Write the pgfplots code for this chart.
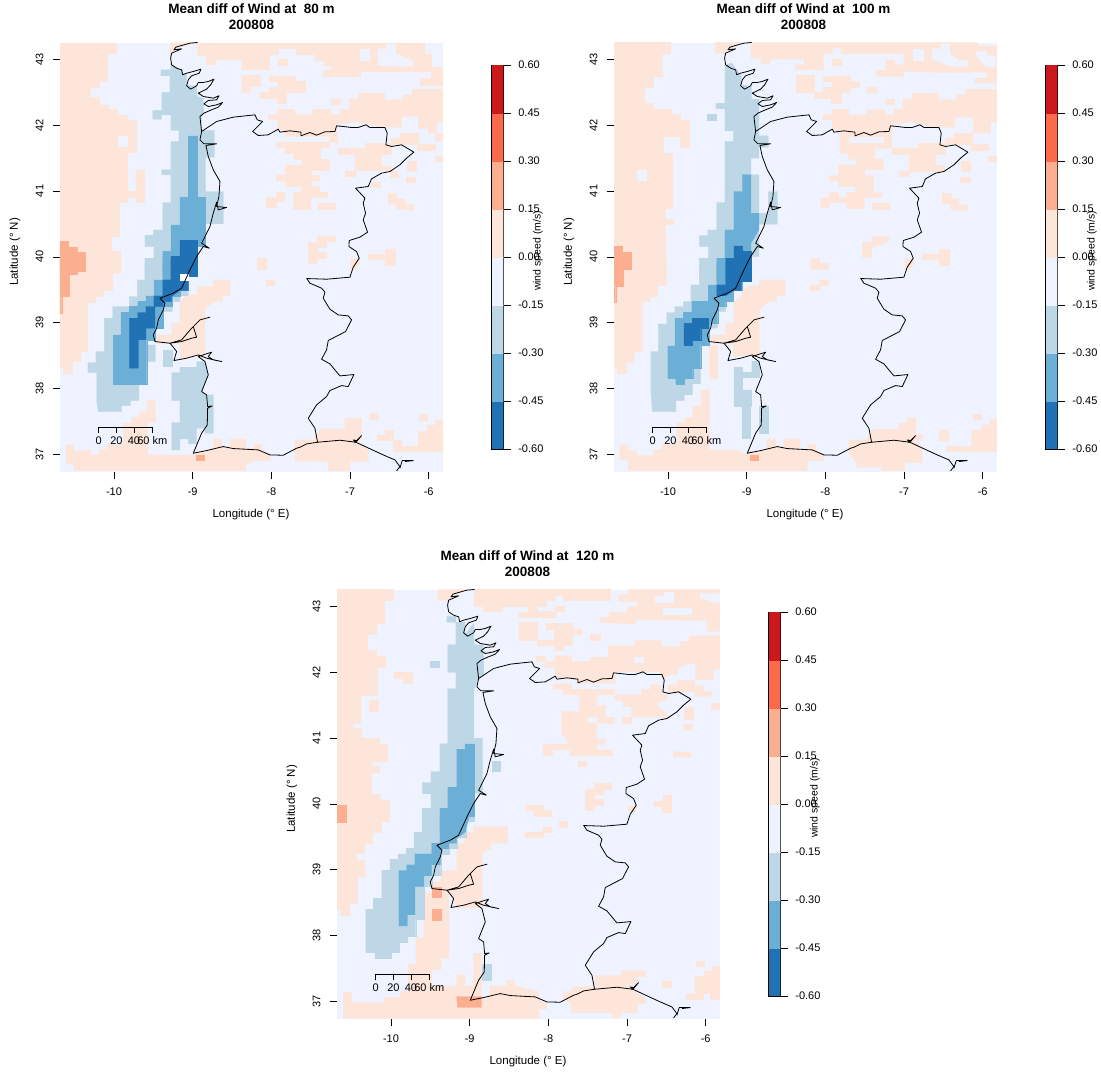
\documentclass[border=0pt]{standalone}
\usepackage{pgfplots}
\pgfplotsset{compat=1.18}
\usepackage{fontspec}
\setmainfont{Liberation Sans}
\definecolor{cA}{HTML}{2171B5}\definecolor{cB}{HTML}{6BAED6}\definecolor{cC}{HTML}{BDD7E7}\definecolor{cD}{HTML}{EFF3FF}
\definecolor{cE}{HTML}{FEE5D9}\definecolor{cF}{HTML}{FCAE91}\definecolor{cG}{HTML}{FB6A4A}\definecolor{cH}{HTML}{CB181D}
\pgfplotsset{
 Z/.style 2 args={x filter/.expression={-10+((x+#1)/3-114)/78.7},y filter/.expression={37+(454.3-(y+#2)/3)/65.8}},
 or/.style={fill=cE,draw=cE,line width=.2pt},
 sa/.style={fill=cF,draw=cF,line width=.2pt},
 bg/.style={fill=cD,draw=cD,line width=.2pt},
 bl/.style={fill=cC,draw=cC,line width=.2pt},
 mb/.style={fill=cB,draw=cB,line width=.2pt},
 db/.style={fill=cA,draw=cA,line width=.2pt},
 wh/.style={fill=white,draw=white,line width=.2pt},
 cl/.style={black,line width=.8pt,line join=round}}
\newcommand{\PP}[4]{\addplot[#1,Z={#2}{#3}] coordinates {#4} -- cycle;}
\newcommand{\LL}[3]{\addplot[cl,Z={#1}{#2}] coordinates {#3};}
\newcommand{\Coast}{%
\LL{0}{0}{(593,128)(570,130)(545,137)(528,142)(522,150)(545,147)(520,158)(515,160)(512,175)(515,195)(530,205)(545,210)(548,225)(560,220)(580,215)(603,208)(598,220)(575,228)(565,240)(560,258)(572,268)(590,258)(595,248)(610,248)(625,245)(642,238)(632,255)(620,268)(595,280)(610,290)(640,295)(657,288)(650,300)(625,302)(612,312)(625,320)(650,315)(668,308)(655,322)(630,332)(612,340)(600,350)(605,395)(600,420)(612,432)(650,432)(618,437)(625,470)(640,510)(660,545)(657,590)(650,620)(680,623)(655,630)(650,607)(640,640)(630,680)(605,730)(628,745)(610,740)(590,770)(570,810)}
\LL{0}{780}{(570,30)(545,85)(520,100)(480,115)(495,130)(490,150)(475,180)(470,205)(460,225)(465,245)(510,250)(545,245)(575,235)(590,232)(580,200)(600,180)(630,172)(600,180)(575,205)(545,240)(510,250)(520,262)(530,275)(522,302)(560,295)(595,285)(620,295)(665,305)(640,300)(625,290)(635,277)(625,280)(595,290)(615,305)(625,345)(605,395)(620,405)(623,440)(637,438)(623,445)(622,495)(605,520)(580,580)(620,572)(670,560)(700,566)(775,570)(810,585)(850,586)(890,565)(900,562)}
\LL{600}{810}{(300,532)(320,522)(353,517)(420,511)(460,516)(470,518)(460,510)(470,512)(485,497)(470,515)(470,518)(550,555)(585,570)(600,590)(590,603)}
\LL{600}{810}{(600,595)(607,572)(640,572)(615,575)}
\LL{0}{0}{(605,395)(650,365)(700,352)(765,345)(772,360)(788,365)(775,378)(758,395)(775,407)(805,405)(835,388)(840,397)(870,393)(903,397)}
\LL{600}{90}{(303,307)(303,318)(330,308)(350,316)(375,306)(405,305)(410,288)(430,290)(455,293)(475,293)(498,285)(510,293)(555,293)(562,310)(558,345)(575,350)(605,345)(642,367)(620,385)(600,405)(570,425)(545,430)(515,447)(505,470)(467,475)(495,505)(490,520)(497,550)(490,570)(503,607)(480,622)(448,632)(447,650)(470,665)(478,685)(460,712)(450,742)(380,748)(320,746)}
\LL{600}{810}{(320,25)(330,40)(365,55)(375,67)(370,85)(390,118)(415,135)(445,138)(455,150)(437,185)(385,212)(380,240)(365,268)(390,282)(420,318)(462,314)(445,350)(425,347)(390,362)(380,380)(350,405)(325,445)(345,475)(353,517)}
}
\newcommand{\PanelA}{%
\PP{or}{0}{0}{(180,129)(348,129)(348,160)(322,160)(322,245)(296,245)(296,262)(270,262)(270,292)(296,292)(296,315)(325,315)(325,327)(350,327)(350,345)(380,345)(380,360)(407,360)(407,458)(382,458)(382,575)(407,575)(407,510)(433,510)(433,608)(407,608)(407,592)(382,592)(382,608)(358,608)(358,708)(333,708)(333,755)(360,755)(360,820)(180,820)}
\PP{or}{0}{780}{(180,-5)(360,-5)(360,40)(335,40)(335,92)(310,92)(310,110)(285,110)(285,127)(262,127)(262,275)(240,275)(240,305)(215,305)(215,340)(190,340)(190,322)(180,322)}
\PP{bg}{0}{0}{(355,408)(380,408)(380,440)(355,440)}
\PP{sa}{0}{0}{(180,725)(205,725)(205,742)(232,742)(232,758)(256,758)(256,815)(180,815)}
\PP{sa}{0}{780}{(180,0)(256,0)(256,25)(232,25)(232,42)(207,42)(207,110)(185,110)(185,160)(180,160)}
\PP{or}{0}{780}{(198,555)(222,555)(222,572)(272,572)(272,585)(298,585)(298,568)(322,568)(322,552)(370,552)(370,490)(395,490)(395,472)(418,472)(418,455)(442,455)(442,422)(466,422)(466,487)(442,487)(442,585)(580,585)(640,565)(640,537)(665,537)(665,560)(690,560)(690,537)(738,537)(738,565)(762,565)(762,553)(785,553)(785,570)(810,585)(810,602)(762,602)(738,615)(738,632)(222,632)(222,615)(198,610)}
\PP{sa}{0}{780}{(588,585)(613,585)(613,602)(588,602)}
\PP{or}{0}{780}{(592,80)(640,80)(640,60)(692,60)(692,107)(668,107)(668,125)(640,125)(615,148)(615,290)(595,285)(540,300)(540,255)(515,250)(465,250)(465,225)(515,225)(515,190)(540,190)(540,125)(565,105)(592,105)}
\PP{or}{0}{780}{(797,60)(822,60)(822,75)(797,75)}
\PP{or}{0}{780}{(772,-5)(797,-5)(797,25)(772,25)}
\PP{or}{600}{810}{(285,510)(345,510)(345,490)(360,490)(360,477)(435,477)(435,445)(485,445)(485,510)(470,515)(505,540)(505,575)(450,575)(450,603)(385,603)(385,575)(285,573)}
\PP{or}{600}{810}{(532,497)(555,497)(555,480)(580,480)(580,512)(605,512)(605,530)(655,530)(655,483)(682,483)(682,465)(707,465)(707,450)(729,450)(729,545)(580,545)(580,512)(532,512)}
\PP{or}{600}{810}{(510,430)(535,430)(535,447)(510,447)}
\PP{or}{600}{810}{(658,432)(682,432)(682,450)(658,450)}
\PP{or}{0}{0}{(510,129)(590,129)(590,131)(530,142)(510,165)}
\PP{or}{600}{90}{(-8,40)(672,40)(672,72)(695,72)(695,112)(729,112)(729,165)(662,165)(662,145)(695,145)(695,125)(610,125)(480,125)(480,140)(370,140)(370,122)(395,122)(395,107)(372,107)(372,90)(345,90)(345,72)(288,72)(288,55)(235,55)(235,72)(208,72)(208,118)(125,118)(125,87)(45,87)(45,102)(18,102)(18,75)(-8,75)}
\PP{bg}{600}{90}{(480,57)(507,57)(507,92)(480,92)}
\PP{bg}{600}{90}{(535,57)(560,57)(560,43)(588,43)(588,72)(640,95)(640,110)(610,110)(535,107)}
\PP{or}{600}{90}{(235,87)(262,87)(262,105)(235,105)}
\PP{or}{600}{90}{(125,135)(180,135)(180,170)(152,170)(152,188)(125,188)}
\PP{or}{600}{90}{(207,138)(287,138)(287,155)(315,155)(315,188)(260,188)(260,220)(232,220)(232,205)(180,205)(180,188)(207,188)(207,172)(235,172)(235,155)(207,155)}
\PP{or}{600}{90}{(393,207)(420,207)(420,224)(393,224)}
\PP{or}{600}{90}{(205,255)(232,255)(232,238)(285,238)(285,255)(338,255)(338,238)(393,238)(393,255)(420,255)(420,238)(447,238)(447,207)(475,207)(475,190)(555,190)(555,210)(610,210)(610,195)(637,195)(637,178)(729,178)(729,278)(710,278)(710,310)(685,310)(685,295)(655,295)(655,260)(605,260)(605,293)(555,293)(470,275)(410,285)(415,338)(388,338)(388,320)(255,320)(255,305)(232,297)(232,270)(205,270)}
\PP{or}{600}{90}{(707,310)(730,310)(730,330)(707,330)}
\PP{or}{600}{90}{(230,338)(388,338)(388,353)(360,353)(360,388)(388,388)(388,420)(333,420)(333,437)(358,437)(358,452)(333,452)(333,470)(358,470)(358,488)(382,488)(382,503)(330,503)(330,537)(280,537)(280,488)(305,488)(305,470)(255,470)(255,452)(228,452)(228,437)(255,437)(255,405)(308,405)(308,388)(282,388)(282,370)(255,370)(255,353)(230,353)}
\PP{or}{600}{90}{(200,503)(228,503)(228,487)(253,487)(253,515)(228,515)(228,532)(200,532)}
\PP{or}{600}{90}{(355,520)(407,520)(407,537)(355,537)}
\PP{or}{600}{90}{(415,355)(495,355)(495,340)(573,340)(573,372)(545,372)(545,408)(570,408)(570,422)(465,422)(465,372)(415,372)}
\PP{or}{600}{90}{(573,325)(600,325)(600,310)(655,310)(655,342)(705,342)(705,360)(652,360)(652,342)(573,342)}
\PP{or}{600}{90}{(705,378)(729,378)(729,395)(705,395)}
\PP{or}{600}{90}{(623,393)(650,393)(650,425)(623,425)}
\PP{or}{600}{90}{(620,442)(647,442)(647,458)(620,458)}
\PP{or}{600}{90}{(570,425)(595,425)(595,442)(570,442)}
\PP{or}{600}{90}{(437,423)(465,423)(465,438)(437,438)}
\PP{or}{600}{90}{(515,458)(540,458)(540,473)(515,473)}
\PP{or}{600}{90}{(565,490)(592,490)(592,507)(615,507)(615,525)(642,525)(642,542)(590,537)(590,523)(565,523)}
\PP{or}{600}{90}{(352,620)(405,620)(405,635)(380,635)(380,652)(352,652)(352,668)(378,668)(378,685)(352,685)(352,700)(325,700)(325,637)(352,637)}
\PP{or}{600}{90}{(172,685)(197,685)(197,717)(172,717)}
\PP{or}{600}{90}{(505,672)(557,672)(557,657)(585,657)(585,705)(557,705)(557,688)(505,688)}
\PP{or}{600}{90}{(453,687)(478,687)(478,705)(465,720)(453,720)}
\PP{bl}{0}{0}{(483,210)(512,210)(512,193)(530,205)(548,212)(548,225)(560,222)(560,258)(590,258)(590,275)(592,290)(610,295)(612,340)(605,350)(605,392)(643,392)(643,472)(617,472)(617,575)(670,575)(670,672)(617,672)(617,740)(592,740)(592,830)(435,830)(435,790)(462,790)(462,740)(435,740)(435,706)(460,706)(460,690)(488,690)(488,608)(513,608)(513,525)(485,525)(485,510)(513,510)(513,425)(537,425)(537,392)(513,392)(513,345)(485,345)(485,358)(458,358)(458,332)(485,332)(485,278)(510,278)(510,228)(483,228)}
\PP{bl}{0}{780}{(435,-5)(590,-5)(590,42)(565,42)(565,108)(540,108)(540,125)(517,125)(517,155)(490,155)(490,205)(465,205)(465,240)(440,240)(440,255)(466,255)(466,305)(440,305)(440,372)(417,372)(417,422)(392,422)(392,437)(365,437)(365,455)(295,455)(290,425)(290,338)(264,338)(264,308)(288,308)(288,275)(313,275)(313,175)(338,175)(338,140)(388,140)(388,110)(412,110)(412,60)(435,60)}
\PP{bl}{0}{780}{(490,272)(515,272)(515,320)(490,320)}
\PP{bl}{0}{780}{(515,338)(540,338)(540,322)(590,322)(590,305)(617,305)(625,345)(605,395)(617,405)(640,405)(640,520)(615,520)(615,505)(590,505)(590,552)(565,552)(565,537)(540,537)(540,570)(515,570)(515,488)(540,488)(540,422)(515,422)}
\PP{mb}{0}{0}{(565,408)(592,408)(592,592)(615,592)(615,740)(592,740)(592,830)(488,830)(488,755)(513,755)(513,675)(540,675)(540,592)(565,592)}
\PP{mb}{0}{780}{(488,-5)(590,-5)(590,42)(565,42)(565,92)(540,92)(540,110)(517,110)(517,140)(490,140)(490,205)(465,205)(465,240)(440,240)(440,372)(340,372)(340,225)(363,225)(363,158)(388,158)(388,140)(413,140)(413,125)(438,125)(438,108)(462,108)(462,60)(488,60)}
\PP{db}{0}{0}{(540,722)(592,722)(592,830)(513,830)(513,770)(540,770)}
\PP{db}{0}{780}{(513,-5)(590,-5)(590,42)(565,42)(565,92)(540,92)(515,110)(515,125)(490,125)(490,140)(465,140)(465,205)(438,205)(438,240)(415,240)(415,325)(388,325)(388,175)(413,175)(413,158)(438,158)(438,140)(462,140)(462,108)(488,108)(488,60)(513,60)}
\PP{wh}{0}{780}{(540,42)(565,42)(565,60)(540,60)}
}
\newcommand{\PanelB}{%
\PP{or}{3}{90}{(177,38)(345,38)(345,70)(320,70)(320,140)(295,140)(295,172)(268,172)(268,220)(295,220)(295,237)(348,237)(348,253)(375,253)(375,270)(403,270)(403,352)(375,352)(375,320)(325,320)(325,370)(352,370)(352,535)(330,535)(330,568)(355,568)(355,583)(330,583)(330,755)(177,755)}
\PP{bg}{3}{90}{(247,420)(273,420)(273,452)(247,452)}
\PP{or}{3}{780}{(177,-5)(332,-5)(332,75)(307,75)(307,108)(282,108)(282,125)(260,125)(260,275)(237,275)(237,308)(212,308)(212,340)(187,340)(187,325)(177,325)}
\PP{sa}{3}{90}{(177,650)(202,650)(202,667)(228,667)(228,717)(204,717)(204,755)(177,755)}
\PP{sa}{3}{780}{(177,-5)(228,-5)(228,27)(204,27)(204,78)(182,78)(182,128)(177,128)}
\PP{or}{3}{780}{(195,555)(220,555)(220,573)(245,573)(245,587)(295,587)(295,570)(320,570)(320,553)(365,553)(365,488)(390,488)(390,472)(413,472)(413,438)(438,438)(438,390)(463,390)(463,570)(538,570)(577,583)(635,570)(635,537)(662,537)(662,560)(687,560)(687,537)(735,537)(735,570)(758,570)(758,553)(783,553)(783,570)(807,585)(807,602)(757,602)(757,632)(220,632)(220,600)(195,600)}
\PP{sa}{3}{780}{(585,585)(610,585)(610,602)(585,602)}
\PP{or}{3}{780}{(462,255)(487,255)(487,355)(462,355)}
\PP{or}{3}{780}{(613,78)(613,60)(690,60)(690,108)(665,108)(665,125)(640,125)(613,150)(613,287)(590,285)(535,290)(535,255)(510,250)(462,250)(462,225)(512,225)(512,190)(537,190)(537,125)(562,108)(562,90)(587,78)}
\PP{or}{3}{780}{(768,-5)(792,-5)(792,12)(818,12)(818,27)(768,27)}
\PP{or}{3}{780}{(795,60)(818,60)(818,75)(792,75)(792,92)(767,92)(767,75)(795,75)}
\PP{or}{603}{90}{(-12,38)(668,38)(668,48)(726,48)(726,160)(660,160)(660,145)(695,145)(695,128)(575,128)(447,125)(447,140)(365,140)(365,122)(392,122)(392,90)(420,90)(420,105)(447,105)(447,72)(258,72)(258,55)(232,55)(232,72)(205,72)(205,120)(122,120)(122,105)(148,105)(148,88)(45,88)(45,103)(18,103)(18,85)(-12,85)}
\PP{or}{3}{90}{(480,38)(560,38)(525,55)(510,70)(480,70)}
\PP{bg}{603}{90}{(475,57)(505,57)(505,92)(475,92)}
\PP{bg}{603}{90}{(532,57)(558,57)(558,43)(585,43)(585,72)(612,92)(640,92)(640,110)(585,110)(532,88)}
\PP{bg}{603}{90}{(665,65)(695,65)(695,78)(722,78)(722,112)(695,112)(665,78)}
\PP{or}{603}{90}{(232,87)(258,87)(258,105)(232,105)}
\PP{or}{603}{90}{(122,135)(177,135)(177,188)(122,188)}
\PP{or}{603}{90}{(205,138)(285,138)(285,155)(312,155)(312,172)(285,172)(285,188)(258,188)(258,220)(230,220)(230,205)(178,205)(178,188)(205,188)(205,172)(232,172)(232,155)(205,155)}
\PP{or}{603}{90}{(338,172)(365,172)(365,188)(338,188)}
\PP{or}{603}{90}{(390,207)(417,207)(417,224)(390,224)}
\PP{or}{603}{90}{(203,255)(230,255)(230,238)(282,238)(282,255)(335,255)(335,240)(390,240)(390,255)(417,255)(417,238)(443,238)(443,207)(472,207)(472,190)(552,190)(552,210)(605,210)(605,195)(632,195)(632,178)(726,178)(726,278)(707,278)(707,310)(655,310)(655,262)(600,262)(600,292)(553,292)(495,285)(470,275)(410,285)(412,355)(360,355)(360,388)(385,388)(385,420)(330,420)(330,437)(355,437)(355,488)(380,488)(380,503)(328,503)(328,537)(275,537)(275,487)(302,487)(302,470)(250,470)(250,452)(222,452)(222,437)(250,437)(250,405)(305,405)(305,388)(280,388)(280,370)(255,370)(255,305)(233,297)(230,270)(203,270)}
\PP{bg}{603}{90}{(283,322)(385,322)(385,338)(283,338)}
\PP{or}{603}{90}{(412,355)(490,355)(490,340)(570,340)(570,372)(540,372)(540,405)(568,405)(568,423)(462,423)(462,372)(412,372)}
\PP{or}{603}{90}{(570,325)(597,325)(597,310)(652,310)(652,342)(700,342)(700,360)(650,360)(650,342)(570,342)}
\PP{or}{603}{90}{(700,378)(726,378)(726,395)(700,395)}
\PP{or}{603}{90}{(620,393)(647,393)(647,425)(620,425)}
\PP{or}{603}{90}{(617,442)(645,442)(645,458)(617,458)}
\PP{or}{603}{90}{(433,423)(462,423)(462,438)(433,438)}
\PP{or}{603}{90}{(197,503)(223,503)(223,487)(250,487)(250,503)(280,503)(280,520)(223,518)(223,533)(197,533)}
\PP{or}{603}{90}{(352,520)(403,520)(403,537)(352,537)}
\PP{or}{603}{90}{(562,490)(590,490)(590,507)(612,507)(612,525)(638,525)(638,542)(588,540)(588,523)(562,523)}
\PP{or}{603}{90}{(350,620)(402,620)(402,635)(350,652)(350,683)(322,683)(322,637)(350,637)}
\PP{or}{603}{90}{(168,685)(193,685)(193,700)(218,700)(218,717)(168,717)}
\PP{or}{603}{90}{(192,750)(218,750)(218,765)(192,765)(192,782)(165,782)(165,767)(192,767)}
\PP{or}{603}{90}{(502,672)(553,672)(553,657)(582,657)(582,705)(553,705)(553,688)(502,688)}
\PP{or}{603}{90}{(450,687)(475,687)(475,705)(462,720)(450,720)}
\PP{or}{603}{90}{(282,1230)(335,1230)(352,1198)(432,1198)(432,1180)(458,1180)(458,1163)(483,1163)(483,1215)(505,1215)(505,1232)(475,1232)(502,1258)(502,1298)(450,1298)(450,1322)(380,1322)(380,1312)(305,1312)(305,1298)(282,1270)}
\PP{or}{603}{90}{(553,1200)(580,1200)(580,1232)(553,1232)}
\PP{or}{603}{90}{(575,1248)(650,1250)(650,1200)(680,1200)(680,1185)(705,1185)(705,1168)(726,1168)(726,1265)(575,1265)}
\PP{or}{603}{90}{(655,1152)(680,1152)(680,1168)(655,1168)}
\PP{bl}{3}{90}{(510,105)(530,100)(545,120)(560,140)(558,165)(590,170)(590,208)(612,208)(612,318)(640,318)(640,352)(612,352)(612,385)(588,385)(588,435)(612,435)(612,550)(640,550)(640,485)(667,485)(667,583)(612,583)(612,680)(588,680)(588,755)(433,755)(433,715)(460,715)(460,650)(433,650)(433,617)(458,617)(458,600)(485,600)(485,518)(510,518)(510,335)(535,335)(535,303)(510,303)(510,237)(483,237)(483,220)(510,220)}
\PP{bl}{3}{90}{(455,253)(482,253)(482,270)(455,270)}
\PP{bl}{3}{780}{(433,-5)(588,-5)(588,42)(562,42)(562,92)(535,92)(535,125)(512,125)(512,155)(488,155)(488,205)(462,205)(462,255)(437,255)(437,372)(413,372)(413,405)(388,405)(388,422)(363,422)(363,455)(292,455)(288,405)(288,275)(310,275)(310,192)(335,192)(335,158)(360,158)(360,140)(385,140)(385,125)(408,125)(408,75)(433,75)}
\PP{bl}{3}{780}{(537,322)(562,322)(562,338)(590,338)(590,305)(612,305)(612,353)(562,353)(562,390)(588,390)(588,438)(585,438)(585,535)(562,535)(562,438)(537,438)}
\PP{bl}{3}{780}{(612,438)(638,438)(638,520)(612,520)}
\PP{mb}{3}{90}{(562,435)(588,435)(588,550)(612,550)(612,600)(588,640)(588,755)(485,755)(485,700)(510,700)(510,600)(537,600)(537,485)(562,485)}
\PP{mb}{3}{780}{(485,-5)(588,-5)(588,28)(560,28)(560,92)(535,92)(535,125)(512,125)(512,140)(488,140)(488,190)(462,190)(462,255)(437,255)(437,325)(413,325)(413,355)(388,355)(388,372)(362,372)(362,355)(338,355)(338,258)(360,258)(360,175)(385,175)(385,158)(410,158)(410,125)(460,125)(460,75)(485,75)}
\PP{db}{3}{90}{(537,648)(562,648)(562,665)(588,665)(588,755)(512,755)(512,700)(537,700)}
\PP{db}{3}{780}{(512,-5)(588,-5)(588,28)(560,28)(560,92)(537,92)(512,108)(485,108)(485,75)(512,75)}
\PP{db}{3}{780}{(412,175)(460,175)(460,205)(437,205)(437,240)(412,240)(412,255)(387,255)(387,190)(412,190)}
}
\newcommand{\PanelC}{%
\PP{or}{159}{99}{(21,29)(190,29)(190,62)(162,62)(162,130)(138,130)(138,163)(112,163)(112,212)(138,212)(138,228)(165,228)(165,262)(140,262)(140,345)(90,345)(90,430)(65,430)(65,445)(92,445)(92,475)(147,475)(147,492)(172,492)(172,543)(123,543)(123,560)(147,560)(147,577)(123,577)(123,642)(150,642)(150,660)(177,660)(177,725)(152,725)(152,755)(21,755)}
\PP{or}{159}{789}{(21,-5)(177,-5)(177,35)(152,35)(152,67)(127,67)(127,100)(102,100)(102,130)(78,130)(78,150)(102,150)(102,200)(80,200)(80,280)(57,280)(57,315)(30,315)(30,298)(21,298)}
\PP{or}{159}{99}{(192,278)(247,278)(247,310)(220,310)(220,295)(192,295)}
\PP{or}{159}{99}{(117,362)(143,362)(143,393)(117,393)}
\PP{sa}{159}{99}{(21,675)(47,675)(47,727)(21,727)}
\PP{or}{159}{789}{(40,547)(65,547)(65,578)(162,578)(162,562)(210,562)(210,545)(235,545)(235,462)(258,462)(258,382)(282,382)(282,248)(333,248)(357,240)(357,445)(333,445)(333,480)(305,480)(305,528)(380,528)(380,495)(405,495)(405,528)(430,528)(430,430)(455,430)(455,570)(470,565)(480,555)(480,528)(530,528)(530,512)(555,512)(555,528)(625,545)(625,570)(650,580)(650,597)(627,597)(627,625)(40,625)}
\PP{or}{669}{99}{(190,1235)(218,1235)(218,1220)(285,1220)(285,1187)(365,1187)(365,1172)(438,1172)(438,1190)(412,1190)(412,1213)(385,1213)(412,1240)(438,1255)(438,1272)(412,1272)(412,1298)(362,1298)(362,1313)(338,1313)(338,1298)(215,1298)(215,1272)(190,1255)}
\PP{or}{669}{99}{(488,1205)(513,1205)(513,1222)(488,1222)}
\PP{or}{669}{99}{(588,1143)(613,1143)(613,1160)(588,1160)}
\PP{or}{669}{99}{(558,1242)(585,1242)(585,1190)(612,1190)(612,1175)(637,1175)(637,1160)(660,1160)(660,1258)(632,1258)(632,1240)(610,1240)(610,1258)(558,1258)}
\PP{or}{159}{789}{(405,68)(430,68)(430,50)(533,50)(533,100)(483,100)(483,117)(457,130)(457,292)(380,295)(360,250)(333,240)(305,238)(305,215)(332,215)(332,182)(380,182)(380,100)(405,100)}
\PP{sa}{159}{789}{(305,232)(333,232)(333,263)(305,263)}
\PP{sa}{159}{789}{(305,297)(332,297)(332,330)(305,330)}
\PP{sa}{159}{789}{(380,560)(455,560)(455,592)(383,592)}
\PP{or}{159}{99}{(323,29)(405,29)(375,45)(352,62)(323,62)}
\PP{or}{159}{99}{(433,29)(520,29)(520,78)(515,78)(515,95)(460,95)(460,78)(433,78)}
\PP{or}{669}{99}{(-20,29)(330,29)(330,62)(190,62)(190,45)(165,45)(165,62)(138,62)(138,78)(112,78)(112,95)(165,95)(165,112)(57,112)(57,97)(85,97)(85,78)(-20,78)}
\PP{or}{669}{99}{(165,78)(192,78)(192,95)(165,95)}
\PP{or}{669}{99}{(385,29)(660,29)(660,40)(600,40)(600,55)(645,70)(660,70)(660,155)(622,155)(622,122)(440,120)(408,118)(408,132)(300,128)(300,112)(328,112)(328,97)(382,97)(382,80)(412,80)(412,65)(355,65)(355,45)(385,45)}
\PP{bg}{669}{99}{(465,50)(492,50)(492,37)(520,37)(520,68)(465,68)}
\PP{bg}{669}{99}{(490,85)(573,85)(573,102)(490,102)}
\PP{or}{669}{99}{(57,128)(112,128)(112,180)(57,180)}
\PP{or}{669}{99}{(138,130)(218,130)(218,147)(245,147)(245,163)(218,163)(218,195)(190,195)(190,212)(163,212)(163,195)(112,195)(112,180)(163,180)(163,147)(138,147)}
\PP{or}{669}{99}{(272,163)(300,163)(300,180)(272,180)}
\PP{or}{669}{99}{(107,228)(135,228)(135,243)(107,243)}
\PP{or}{669}{99}{(135,245)(163,245)(163,228)(215,228)(215,245)(270,245)(270,232)(325,232)(325,198)(405,198)(405,182)(485,182)(485,200)(540,200)(540,185)(568,185)(568,168)(660,168)(660,268)(640,268)(640,300)(587,300)(587,252)(560,252)(532,268)(532,285)(508,285)(490,300)(480,275)(345,275)(347,310)(235,310)(220,295)(165,295)(165,262)(135,262)}
\PP{bg}{669}{99}{(402,232)(430,232)(430,248)(402,248)}
\PP{or}{669}{99}{(160,312)(215,312)(215,328)(345,328)(345,345)(290,345)(290,378)(317,378)(317,412)(345,412)(345,430)(290,430)(290,478)(315,478)(315,495)(290,495)(290,510)(338,510)(338,527)(210,527)(210,492)(185,460)(185,395)(238,395)(238,345)(187,345)(187,328)(160,328)}
\PP{or}{669}{99}{(130,492)(210,492)(210,508)(158,508)(158,525)(130,525)}
\PP{bg}{669}{99}{(265,412)(290,412)(290,428)(265,428)}
\PP{or}{669}{99}{(345,345)(425,345)(425,328)(452,328)(452,315)(480,315)(490,340)(502,340)(502,360)(475,365)(475,380)(502,400)(502,412)(395,412)(395,380)(370,380)(370,362)(345,362)}
\PP{or}{669}{99}{(505,315)(532,315)(532,302)(585,302)(585,318)(610,318)(610,335)(637,335)(637,350)(585,350)(585,335)(505,340)}
\PP{or}{669}{99}{(635,370)(660,370)(660,387)(635,387)}
\PP{or}{669}{99}{(552,383)(580,383)(580,417)(552,417)}
\PP{or}{669}{99}{(550,432)(578,432)(578,448)(550,448)}
\PP{or}{669}{99}{(367,413)(395,413)(395,430)(367,430)}
\PP{or}{669}{99}{(520,515)(573,518)(573,533)(520,530)}
\PP{or}{669}{99}{(235,543)(260,543)(260,560)(235,560)}
\PP{or}{669}{99}{(283,610)(335,610)(335,627)(310,627)(310,643)(283,643)(283,658)(310,658)(310,675)(283,675)(283,692)(256,692)(256,627)(283,627)}
\PP{or}{669}{99}{(490,647)(515,647)(515,697)(488,697)(488,680)(462,680)(462,665)(490,665)}
\PP{or}{669}{99}{(385,678)(410,678)(408,695)(385,695)}
\PP{or}{669}{99}{(75,675)(128,675)(128,692)(153,692)(153,708)(102,708)(102,692)(75,692)}
\PP{or}{669}{99}{(178,725)(203,725)(203,741)(178,741)}
\PP{or}{669}{99}{(128,741)(153,741)(153,757)(128,757)(128,772)(75,772)(75,757)(128,757)}
\PP{bl}{159}{99}{(350,110)(378,110)(378,127)(405,127)(405,165)(432,130)(432,195)(460,195)(462,285)(445,300)(432,330)(432,475)(458,475)(458,640)(432,640)(432,725)(405,725)(405,755)(277,755)(277,692)(303,692)(303,642)(277,642)(277,608)(303,608)(303,575)(330,575)(330,492)(353,492)(353,327)(378,327)(378,278)(353,278)(353,195)(378,195)(378,127)(350,127)}
\PP{bl}{159}{99}{(300,245)(327,245)(327,262)(300,262)}
\PP{bl}{159}{99}{(485,543)(510,543)(510,575)(485,575)}
\PP{bl}{159}{789}{(277,-5)(432,-5)(432,35)(407,35)(407,83)(382,83)(382,115)(357,115)(357,132)(332,132)(332,197)(305,197)(305,230)(282,230)(282,328)(257,328)(257,380)(232,380)(232,397)(208,397)(208,428)(183,428)(183,445)(135,445)(135,428)(107,428)(107,298)(130,298)(130,265)(155,265)(155,182)(180,182)(180,148)(205,148)(205,132)(228,132)(228,115)(252,115)(252,67)(277,67)}
\PP{bl}{159}{789}{(457,462)(482,462)(482,510)(457,510)}
\PP{mb}{159}{99}{(405,492)(432,492)(432,708)(405,708)(405,755)(330,755)(330,708)(353,708)(353,622)(380,622)(380,508)(405,508)}
\PP{mb}{159}{789}{(330,-5)(425,-5)(405,68)(380,85)(380,100)(357,100)(357,117)(332,117)(332,165)(305,165)(305,198)(282,198)(282,230)(255,230)(255,315)(232,315)(232,348)(207,348)(207,182)(230,182)(230,165)(255,165)(255,132)(305,132)(305,100)(330,100)}
}
\pgfplotsset{map/.style={scale only axis,width=383pt,height=429pt,
 xmin=-10.686,xmax=-5.818,ymin=36.73,ymax=43.248,
 axis background/.style={fill=cD},axis line style={draw=none},
 tick align=outside,xtick pos=bottom,ytick pos=left,major tick length=7pt,
 tick style={black,line width=.5pt},
 xtick={-10,-9,-8,-7,-6},xticklabels={-10,-9,-8,-7,-6},
 ytick={37,38,39,40,41,42,43},yticklabels={37,38,39,40,41,42,43},
 ticklabel style={font=\fontsize{11}{13}\selectfont},
 xticklabel style={yshift=-5pt},
 yticklabel style={rotate=90,anchor=south,yshift=6pt}},
 cbar/.style={scale only axis,width=11.6pt,height=384pt,xmin=0,xmax=1,ymin=-0.6,ymax=0.6,
 axis line style={black,line width=.6pt},xtick=\empty,ytick pos=right,tick align=outside,major tick length=7.5pt,
 tick style={black,line width=.5pt},
 ytick={-0.6,-0.45,-0.3,-0.15,0,0.15,0.3,0.45,0.6},
 yticklabels={-0.60,-0.45,-0.30,-0.15,0.00,0.15,0.30,0.45,0.60},
 ticklabel style={font=\fontsize{11}{13}\selectfont},
 yticklabel style={anchor=west,xshift=4pt}}}
\newcommand{\Band}[3]{\addplot[fill=#1,draw=#1,line width=.2pt] coordinates {(0,#2)(1,#2)(1,#3)(0,#3)} -- cycle;}
\newcommand{\Scale}{%
\addplot[black,line width=.5pt] coordinates {(-10.195,37.32)(-10.195,37.41)(-9.968,37.41)(-9.968,37.32)};
\addplot[black,line width=.5pt] coordinates {(-9.968,37.41)(-9.746,37.41)(-9.746,37.32)};
\addplot[black,line width=.5pt] coordinates {(-9.746,37.41)(-9.513,37.41)(-9.513,37.32)};
\node[font=\fontsize{11}{13}\selectfont] at (axis cs:-10.195,37.2) {0};
\node[font=\fontsize{11}{13}\selectfont] at (axis cs:-9.968,37.2) {20};
\node[font=\fontsize{11}{13}\selectfont] at (axis cs:-9.746,37.2) {40};
\node[font=\fontsize{11}{13}\selectfont] at (axis cs:-9.513,37.2) {60 km};
}
\newcommand{\Cbar}[2]{%
\begin{axis}[cbar,at={(#1pt,#2pt)},anchor=south west]
\Band{cA}{-0.6}{-0.45}\Band{cB}{-0.45}{-0.3}\Band{cC}{-0.3}{-0.15}\Band{cD}{-0.15}{0}
\Band{cE}{0}{0.15}\Band{cF}{0.15}{0.3}\Band{cG}{0.3}{0.45}\Band{cH}{0.45}{0.6}
\end{axis}}
\newcommand{\Texts}[4]{%
\begin{scope}[shift={(#1pt,-#2pt)}]
\node[font=\fontsize{13.5}{15}\selectfont\bfseries] at (251.5pt,1066.5pt) {Mean diff of Wind at\ \ #3 m};
\node[font=\fontsize{13.5}{15}\selectfont\bfseries] at (251.5pt,1050.5pt) {200808};
\end{scope}
\begin{scope}[shift={(#4pt,-#2pt)}]
\node[font=\fontsize{11.5}{14}\selectfont] at (251pt,560pt) {Longitude (° E)};
\node[font=\fontsize{11.5}{14}\selectfont,rotate=90] at (15pt,823pt) {Latitude (° N)};
\node[font=\fontsize{10.5}{12}\selectfont,rotate=90] at (538pt,824pt) {wind speed (m/s)};
\end{scope}}
\begin{document}
\begin{tikzpicture}[x=1pt,y=1pt]
\path[use as bounding box] (0pt,0pt) rectangle (1101pt,1075pt);
\begin{axis}[map,at={(60pt,603pt)},anchor=south west]
\PanelA\Coast\Scale
\end{axis}
\Cbar{491.7}{626}
\begin{axis}[map,at={(614pt,603pt)},anchor=south west]
\PanelB\Coast\Scale
\end{axis}
\Cbar{1045.7}{626}
\begin{axis}[map,at={(337pt,56pt)},anchor=south west]
\PanelC\Coast\Scale
\end{axis}
\Cbar{768.7}{79}
\Texts{0}{0}{80}{0}
\Texts{552}{0}{100}{554}
\Texts{276}{547}{120}{277}
\end{tikzpicture}
\end{document}
